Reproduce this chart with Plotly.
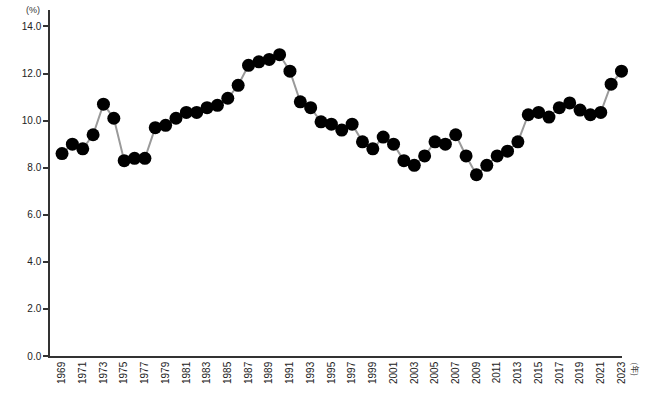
import plotly.graph_objects as go

years = list(range(1969, 2024))
values = [8.6, 9.0, 8.8, 9.4, 10.7, 10.1, 8.3, 8.4, 8.4, 9.7,
          9.8, 10.1, 10.35, 10.35, 10.55, 10.65, 10.95, 11.5, 12.35, 12.5,
          12.6, 12.8, 12.1, 10.8, 10.55, 9.95, 9.85, 9.6, 9.85, 9.1,
          8.8, 9.3, 9.0, 8.3, 8.1, 8.5, 9.1, 9.0, 9.4, 8.5,
          7.7, 8.1, 8.5, 8.7, 9.1, 10.25, 10.35, 10.15, 10.55, 10.75,
          10.45, 10.25, 10.35, 11.55, 12.1]
x_ticks = list(range(1969, 2024, 2))
y_ticks = [0, 2, 4, 6, 8, 10, 12, 14]

fig = go.Figure()
fig.add_trace(go.Scatter(
    x=years, y=values, mode="lines+markers",
    line=dict(color="#9a9a9a", width=2),
    marker=dict(color="#000000", size=13),
    showlegend=False, cliponaxis=False,
))

font = dict(family="Liberation Sans, Arial, sans-serif", size=10, color="#222222")
fig.update_layout(
    width=660, height=398,
    margin=dict(l=50, r=38, t=10, b=42),
    paper_bgcolor="white", plot_bgcolor="white",
    font=font,
    xaxis=dict(
        range=[1967.84, 2023.05], tickmode="array", tickvals=x_ticks,
        ticktext=[str(v) for v in x_ticks], tickangle=-90,
        showgrid=False, zeroline=False, showline=True, linecolor="#333333",
        linewidth=1.5, ticks="", 
    ),
    yaxis=dict(
        range=[0, 14.7], tickmode="array", tickvals=y_ticks,
        ticktext=["%.1f" % v for v in y_ticks],
        showgrid=False, zeroline=False, showline=True, linecolor="#333333",
        linewidth=1.5, ticks="outside", ticklen=5, tickcolor="#333333", tickwidth=1.5,
    ),
    annotations=[
        dict(text="(%)", xref="paper", yref="paper", x=-0.03, y=1.0,
             xanchor="center", yanchor="middle", showarrow=False,
             font=dict(family="Liberation Sans, Arial, sans-serif", size=9, color="#333333")),
        dict(text="(年)", xref="paper", yref="paper", x=1.023, y=-0.012,
             xanchor="center", yanchor="top", showarrow=False, textangle=90,
             font=dict(family="Noto Sans CJK JP, sans-serif", size=8, color="#333333")),
    ],
)
fig.write_html("out.html")
